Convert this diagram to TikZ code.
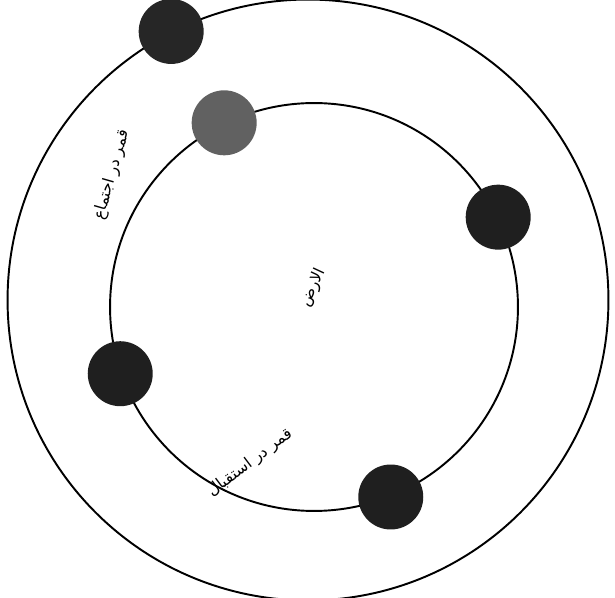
\documentclass[tikz,border=0pt]{standalone}
\usepackage{fontspec}
\newfontfamily\arabicfont[Script=Arabic]{DejaVu Sans}
\TeXXeTstate=1

\begin{document}
\begin{tikzpicture}[x=0.02cm, y=0.02cm,
    orbit/.style={draw, circle, line width=1.1pt},
    planet/.style={circle, fill=black!88, minimum size=1.3cm, inner sep=0pt},
    lbl/.style={font=\arabicfont\small, inner sep=1pt}]
                \useasboundingbox (0,0) rectangle (615,598);
                \node[orbit, minimum size=12.02cm] (outerorbit) at (308,298) {};
                \node[orbit, minimum size=8.16cm] (innerorbit) at (314,291) {};
                % sun on the outer orbit, moon on the inner one
                \node[planet, fill=black!85] (sun) at (outerorbit.117) {};
                \node[planet, fill=black!62] (moonconj) at (innerorbit.116) {};
                \foreach \a/\n in {26/moonb, 199/moonc, 292/moonopp}
                    \node[planet] (\n) at (innerorbit.\a) {};
                \node[lbl, rotate=74] (conjlabel) at (112,423) {\beginR قمر در اجتماع\endR};
                \node[lbl, rotate=65] (earthlabel) at (313,310) {\beginR الارض\endR};
                \node[lbl, rotate=37] (opplabel) at (250,135) {\beginR قمر در استقبال\endR};
            \end{tikzpicture}
\end{document}
